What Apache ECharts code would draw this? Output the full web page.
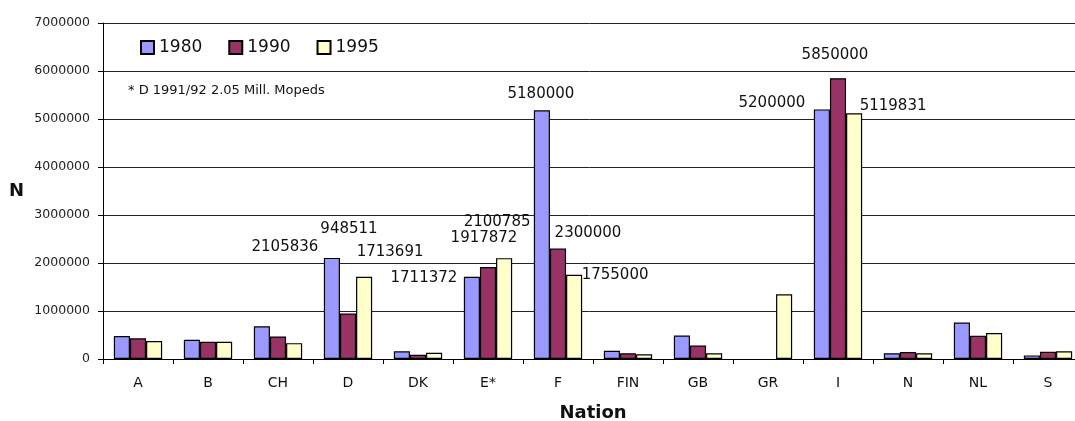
<!DOCTYPE html>
<html>
<head>
<meta charset="utf-8">
<script src="https://cdn.jsdelivr.net/npm/echarts@6/dist/echarts.min.js"></script>
<style>
html,body{margin:0;padding:0;background:#fff;}
#chart{width:1075px;height:421px;}
</style>
</head>
<body>
<div id="chart"></div>
<script>
const categories = ['A','B','CH','D','DK','E*','F','FIN','GB','GR','I','N','NL','S'];
const seriesNames = ['1980','1990','1995'];
const v1980 = [480000,400000,680000,2105836,160000,1711372,5180000,170000,490000,null,5200000,120000,760000,75000];
const v1990 = [430000,360000,470000,948511,90000,1917872,2300000,120000,280000,null,5850000,145000,485000,150000];
const v1995 = [375000,360000,330000,1713691,130000,2100785,1755000,100000,120000,1350000,5119831,120000,540000,160000];
const labeledCategories = ['D','E*','F','I'];
const yMin = 0, yMax = 7000000, yStep = 1000000;
const footnote = '* D 1991/92 2.05 Mill. Mopeds';

// label placement (style only)
const labelOffsets = {
  '1980': {'D':[-47,2], 'E*':[-48,14], 'F':[-1,-4], 'I':[-50,6]},
  '1990': {'D':[1,-72], 'E*':[-4,-16], 'F':[30,-3], 'I':[-3,-11]},
  '1995': {'D':[26,-12], 'E*':[-7,-24], 'F':[41,13], 'I':[39,5]}
};
const colors = ['#9999FF','#993366','#FFFFCC'];
const values = [v1980, v1990, v1995];

function buildData(name, arr){
  return arr.map((v,i)=>{
    const cat = categories[i];
    if (labeledCategories.includes(cat) && v != null){
      return {value:v, label:{show:true, position:'top', offset:labelOffsets[name][cat],
        formatter:String(v), fontFamily:'DejaVu Sans', fontSize:15, color:'#111'}};
    }
    return v == null ? '-' : v;
  });
}

const chart = echarts.init(document.getElementById('chart'), null, {renderer:'canvas'});
chart.setOption({
  animation:false,
  backgroundColor:'#fff',
  textStyle:{fontFamily:'DejaVu Sans'},
  grid:{left:103, width:980, top:23, height:336, containLabel:false, outerBoundsMode:'none'},
  title:{text:'N', left:4, top:177, textStyle:{fontFamily:'DejaVu Sans', fontWeight:'bold', fontSize:18, color:'#111'}},
  legend:{
    data:seriesNames, left:140, top:39, padding:0, icon:'rect', itemWidth:13, itemHeight:13, itemGap:26,
    textStyle:{fontFamily:'DejaVu Sans', fontSize:17, color:'#111'}
  },
  graphic:[{type:'text', left:128, top:84, style:{text:footnote, font:'13px "DejaVu Sans"', fill:'#111'}}],
  xAxis:{
    type:'category', data:categories, boundaryGap:true,
    name:'Nation', nameLocation:'middle', nameGap:45,
    nameTextStyle:{fontFamily:'DejaVu Sans', fontWeight:'bold', fontSize:18, color:'#111'},
    axisLine:{lineStyle:{color:'#000', width:1}},
    axisTick:{show:true, length:5, lineStyle:{color:'#000'}},
    axisLabel:{fontFamily:'DejaVu Sans', fontSize:14, color:'#111', margin:17}
  },
  yAxis:{
    type:'value', min:yMin, max:yMax, interval:yStep,
    axisLine:{show:true, lineStyle:{color:'#000', width:1}},
    axisTick:{show:true, length:5, lineStyle:{color:'#000'}},
    axisLabel:{fontFamily:'DejaVu Sans', fontSize:12.5, color:'#222', margin:13, formatter:v=>String(v)},
    splitLine:{show:true, lineStyle:{color:'#222', width:1}}
  },
  series: seriesNames.map((n,k)=>({
    name:n, type:'bar', data:buildData(n, values[k]),
    barGap:'0%', barCategoryGap:'31%',
    itemStyle:{color:colors[k], borderColor:'#000', borderWidth:1.2},
    emphasis:{disabled:true}
  }))
});
</script>
</body>
</html>
